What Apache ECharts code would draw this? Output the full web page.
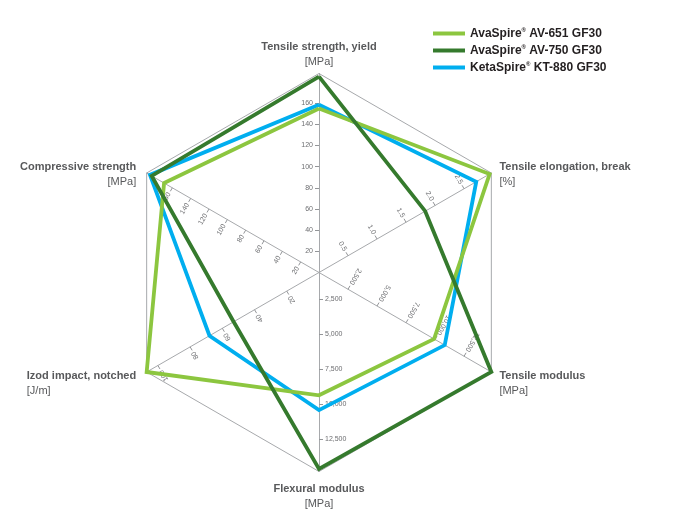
<!DOCTYPE html>
<html><head><meta charset="utf-8">
<script src="https://cdn.jsdelivr.net/npm/echarts@6/dist/echarts.min.js"></script>
<style>html,body{margin:0;padding:0;background:#fff}#c{width:700px;height:525px}</style>
</head><body><div id="c"></div>
<script>
// ---- data ----
const axisNames = ['Tensile strength, yield', 'Compressive strength', 'Izod impact, notched', 'Flexural modulus', 'Tensile modulus', 'Tensile elongation, break'];
const axisUnits = ['[MPa]', '[MPa]', '[J/m]', '[MPa]', '[MPa]', '[%]'];
const axisMin = [0, 0, 0, 627, 0, 0];
const axisMax = [188, 188, 107, 14800, 14850, 2.97];
const seriesNames = ['AvaSpire® AV-651 GF30', 'AvaSpire® AV-750 GF30', 'KetaSpire® KT-880 GF30'];
const av651 = [155, 169, 107, 9370, 9920, 2.94];
const av750 = [185, 182.5, 53, 14620, 14850, 1.83];
const kt880 = [158.5, 184.4, 68, 10430, 10835, 2.71];
const tickFirst = [20, 20, 20, 2500, 2500, 0.5];
const tickLast = [160, 160, 100, 12500, 12500, 2.5];
const tickSplits = [7, 7, 4, 4, 4, 4];
const tickDecimals = [0, 0, 0, 0, 0, 1];

// ---- layout / style ----
const CX = 319, CY = 272.5, R = 199;
const FONT = '"Liberation Sans", Arial, Helvetica, sans-serif';
const labelRotate = [0, 60, 120, 0, -120, -60];
// per-axis name padding [top, right, bottom, left]
const namePadding = [[0, 0, 0, 0], [6, 7, 0, 0], [19, 7, 0, 0], [6, 0, 0, 0], [19, 0, 0, 4.6], [7, 0, 0, 4.6]];
const colors = {av651: '#8cc63f', av750: '#357a2d', kt880: '#00aeef'};
const LW = 3.8;

function fmt(v, dec) {
  if (dec) return Number(v).toFixed(dec);
  return Math.round(v).toLocaleString('en-US');
}

const nameText = {fontFamily: FONT, fontSize: 11, color: '#58595b', lineHeight: 15};
const mainRadar = {
  center: [CX, CY], radius: R, startAngle: 90, splitNumber: 1, shape: 'polygon',
  indicator: axisNames.map((n, i) => ({
    name: n + '\n' + axisUnits[i], min: axisMin[i], max: axisMax[i],
    nameTextStyle: {padding: namePadding[i]}
  })),
  nameGap: 4, axisNameGap: 4,
  axisName: Object.assign({}, nameText, {
    formatter: function (name) {
      const p = name.split('\n');
      const u = p[0].indexOf('Izod') === 0 ? 'ul' : 'u';
      return '{t|' + p[0] + '}\n{' + u + '|' + p[1] + '}';
    },
    rich: {
      t: Object.assign({}, nameText, {fontWeight: 'bold'}),
      u: Object.assign({}, nameText),
      ul: Object.assign({}, nameText, {align: 'left'})
    }
  }),
  axisLine: {show: true, lineStyle: {color: '#a7a9ac', width: 1}},
  splitLine: {show: true, lineStyle: {color: '#a7a9ac', width: 1}},
  splitArea: {show: false},
  axisTick: {show: false},
  axisLabel: {show: false}
};

const labelRadars = axisNames.map((n, k) => {
  const ang = (90 + 60 * k) * Math.PI / 180;
  const pxPerUnit = R / (axisMax[k] - axisMin[k]);
  const d1 = (tickFirst[k] - axisMin[k]) * pxPerUnit;
  const dN = (tickLast[k] - axisMin[k]) * pxPerUnit;
  return {
    center: [CX + d1 * Math.cos(ang), CY - d1 * Math.sin(ang)],
    radius: dN - d1, startAngle: 90, splitNumber: tickSplits[k], shape: 'polygon',
    indicator: axisNames.map((m, i) => ({
      name: '', min: tickFirst[k], max: tickLast[k],
      axisLabel: {show: i === k, rotate: labelRotate[k], formatter: v => fmt(v, tickDecimals[k])},
      axisTick: {show: i === k}
    })),
    axisName: {show: false},
    axisLine: {show: false},
    splitLine: {show: false},
    splitArea: {show: false},
    axisTick: {show: true, length: 4, lineStyle: {color: '#939598', width: 1}},
    axisLabel: {show: true, fontSize: 7, color: '#6d6e71', margin: 6, fontFamily: FONT}
  };
});

const chart = echarts.init(document.getElementById('c'));
chart.setOption({
  animation: false,
  backgroundColor: '#fff',
  legend: {
    data: seriesNames,
    orient: 'vertical', left: 433, top: 27.5, padding: 0,
    icon: 'rect', itemWidth: 32, itemHeight: 4, itemGap: 5,
    formatter: name => name.replace('®', '{s|®}'),
    textStyle: {
      fontFamily: FONT, fontSize: 12, fontWeight: 'bold', color: '#231f20',
      rich: {s: {fontFamily: FONT, fontSize: 6, fontWeight: 'bold', color: '#231f20', verticalAlign: 'top'}}
    },
    selectedMode: false
  },
  radar: [mainRadar].concat(labelRadars),
  series: [{
    type: 'radar', radarIndex: 0, symbol: 'none', silent: true,
    data: [
      {name: seriesNames[2], value: kt880, lineStyle: {color: colors.kt880, width: LW, join: 'miter'}, itemStyle: {color: colors.kt880}},
      {name: seriesNames[0], value: av651, lineStyle: {color: colors.av651, width: LW, join: 'miter'}, itemStyle: {color: colors.av651}},
      {name: seriesNames[1], value: av750, lineStyle: {color: colors.av750, width: LW, join: 'miter'}, itemStyle: {color: colors.av750}}
    ]
  }]
});
</script></body></html>
